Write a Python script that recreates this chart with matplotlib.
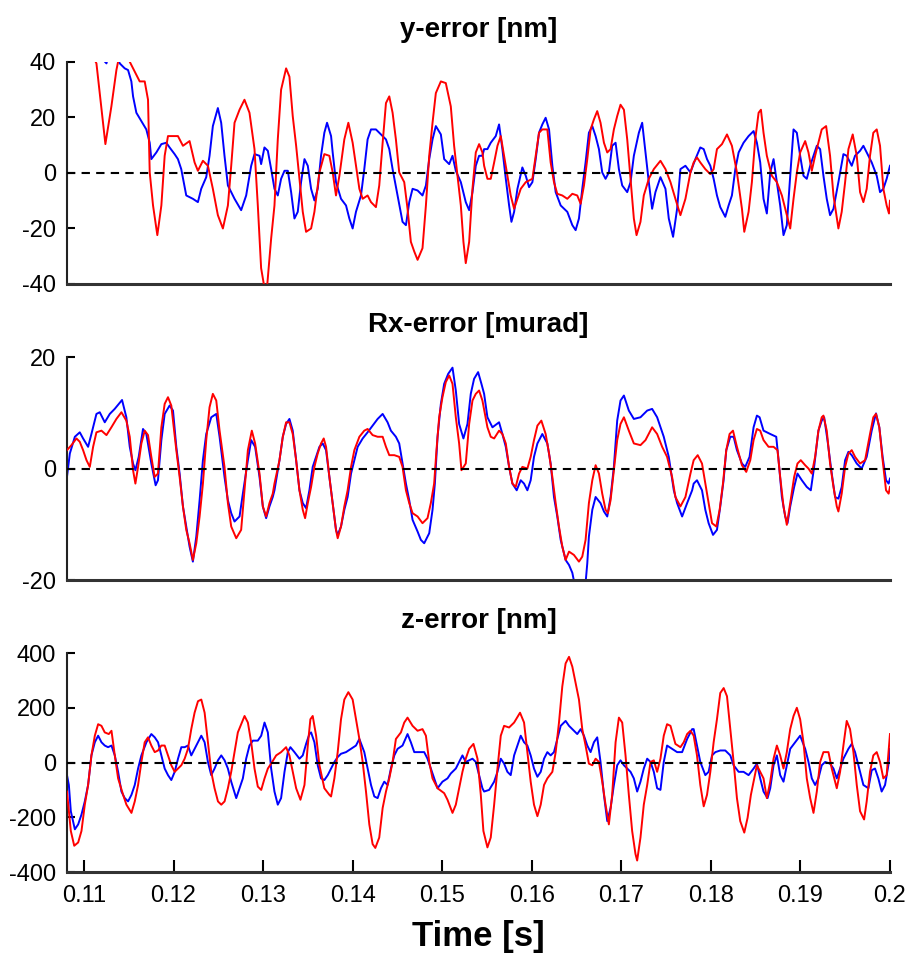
import numpy as np
import matplotlib
matplotlib.use("Agg")
import matplotlib.pyplot as plt

# ---------------- data (time in ms, values in panel units) ----------------
y_red_t = [108.1, 111.39, 112.39, 113.06, 113.62, 114.18, 115.29, 116.22, 116.78, 117.15, 117.34, 117.71,
           118.19, 118.64, 119.01, 119.38, 120.49, 121.05, 121.79, 122.35, 122.72, 123.28, 123.84, 124.39,
           124.95, 125.51, 126.07, 126.44, 126.81, 127.37, 127.92, 128.48, 129.04, 129.41, 129.78, 130.34,
           130.90, 131.27, 131.64, 132.01, 132.57, 132.94, 133.31, 133.69, 134.06, 134.43, 134.80, 135.36,
           135.73, 136.29, 136.84, 137.40, 137.77, 138.14, 138.52, 139.07, 139.52, 140.00, 140.37, 140.75,
           141.12, 141.67, 142.05, 142.60, 142.97, 143.35, 143.72, 144.09, 144.46, 144.83, 145.20, 145.76,
           146.13, 146.50, 146.88, 147.25, 147.80, 148.18, 148.55, 148.92, 149.29, 149.85, 150.40, 150.96,
           151.33, 151.71, 152.08, 152.37, 152.63, 153.01, 153.38, 153.75, 154.12, 154.49, 154.68, 155.05,
           155.42, 155.80, 156.17, 156.54, 156.91, 157.28, 157.65, 158.03, 158.40, 158.77, 159.33, 160.07,
           160.44, 160.81, 161.18, 161.74, 162.11, 162.48, 162.85, 163.41, 163.97, 164.53, 165.08, 165.46,
           165.83, 166.20, 166.57, 166.94, 167.31, 167.68, 168.06, 168.43, 168.80, 169.17, 169.54, 169.91,
           170.29, 170.66, 171.03, 171.40, 171.70, 172.14, 172.51, 173.07, 173.63, 174.37, 174.93, 175.49,
           176.04, 176.60, 177.16, 177.72, 178.08, 178.45, 178.82, 179.38, 179.94, 180.31, 180.68, 181.24,
           181.80, 182.35, 182.91, 183.47, 183.73, 184.21, 184.58, 184.95, 185.33, 185.59, 185.88, 186.25,
           186.81, 187.37, 187.93, 188.48, 188.86, 189.23, 189.60, 189.97, 190.53, 190.90, 191.27, 191.64,
           192.01, 192.38, 192.87, 193.31, 193.69, 194.24, 194.61, 194.99, 195.36, 195.84, 196.29, 196.66,
           197.03, 197.40, 197.77, 198.14, 198.52, 198.89, 199.26, 199.63, 199.89, 200.0]
y_red_v = [60, 39.5, 10.4, 24.0, 37.1, 46, 38.9, 33.0, 33.0, 26.4, 0.2, -11.7,
           -22.4, -11.7, 6.2, 13.3, 13.3, 9.8, 11.5, 3.8, 0.8, 4.4, 2.6, -5.7,
           -15.2, -20.0, -11.7, 2.6, 18.1, 22.8, 26.4, 21.7, 8.6, -11.7, -34.3, -45,
           -23.6, -11.7, 12.1, 30.0, 37.7, 34.7, 20.5, 9.8, -2.1, -14.0, -21.2, -20.0,
           -14.0, 0.2, 6.8, 6.2, 0.2, -8.1, -1.0, 12.1, 18.1, 10.9, 2.6, -5.7,
           -9.3, -8.1, -10.5, -12.3, -4.5, 10.9, 25.2, 27.6, 21.7, 12.1, 0.2, -3.3,
           -12.9, -24.8, -28.3, -31.3, -27.1, -11.7, 6.2, 18.1, 28.8, 33.0, 32.4, 24.0,
           9.8, -1.0, -11.7, -24.8, -32.5, -24.8, -5.7, 7.4, 10.4, 7.4, 2.6, -2.1,
           -2.1, 3.8, 9.8, 13.3, 6.2, -1.0, -8.1, -12.9, -9.3, -5.7, -3.3, -2.1,
           6.2, 14.5, 15.7, 15.7, 3.8, -3.3, -7.5, -8.1, -9.3, -7.5, -8.1, -11.1,
           -4.5, 5.0, 15.7, 19.3, 22.3, 18.1, 10.9, 7.4, 8.6, 15.7, 20.5, 24.6,
           22.8, 12.1, -2.1, -16.4, -22.4, -17.6, -8.1, -2.1, 1.4, 4.4, 1.4, -3.3,
           -9.3, -15.2, -9.3, 0.2, 3.8, 5.6, 3.8, 1.4, -0.4, 1.4, 8.6, 10.4,
           13.9, 9.8, 0.2, -12.9, -21.2, -14.0, -3.3, 12.1, 21.7, 22.8, 14.5, 6.2,
           -1.0, -3.3, -8.1, -15.2, -20.0, -9.3, 0.2, 7.4, 11.5, 7.4, 0.8, 6.2,
           10.9, 15.7, 16.9, 6.2, -8.1, -20.0, -14.0, -3.3, 8.6, 13.9, 6.2, -6.9,
           -10.5, -5.7, 6.2, 14.5, 15.7, 9.8, -5.7, -11.7, -14.6, -10.0]

y_blue_t = [108.1, 112.51, 113.2, 113.99, 114.55, 114.92, 115.29, 115.48, 115.85, 116.41, 116.96, 117.34,
            117.52, 118.08, 118.64, 119.19, 119.56, 120.12, 120.49, 120.86, 121.42, 122.16, 122.72, 123.09,
            123.65, 124.02, 124.39, 124.95, 125.32, 125.69, 126.07, 126.81, 127.55, 128.11, 128.67, 129.04,
            129.60, 129.78, 130.15, 130.53, 130.90, 131.27, 131.64, 132.01, 132.39, 132.76, 133.13, 133.50,
            133.87, 134.24, 134.62, 134.99, 135.36, 135.73, 136.10, 136.47, 136.84, 137.14, 137.59, 137.77,
            138.14, 138.70, 139.26, 139.63, 140.00, 140.37, 140.93, 141.30, 141.67, 142.05, 142.60, 143.16,
            143.72, 144.09, 144.46, 145.02, 145.57, 145.95, 146.32, 146.69, 147.25, 147.80, 148.18, 148.55,
            148.92, 149.29, 149.85, 150.22, 150.78, 151.15, 151.52, 152.08, 152.63, 153.01, 153.38, 153.75,
            154.12, 154.49, 154.68, 155.05, 155.42, 155.98, 156.35, 156.72, 157.10, 157.47, 157.73, 158.03,
            158.40, 158.95, 159.33, 159.70, 160.07, 160.44, 160.81, 161.18, 161.55, 161.93, 162.30, 162.67,
            163.23, 163.97, 164.53, 164.90, 165.27, 165.64, 166.01, 166.38, 166.76, 167.13, 167.50, 167.87,
            168.24, 168.61, 168.98, 169.36, 169.73, 170.10, 170.66, 171.03, 171.40, 171.96, 172.33, 172.70,
            173.07, 173.44, 173.81, 174.37, 174.93, 175.30, 175.78, 176.23, 176.60, 177.16, 177.72, 178.27,
            178.82, 179.20, 179.57, 179.94, 180.31, 180.68, 181.05, 181.61, 181.98, 182.35, 182.73, 183.10,
            183.65, 184.21, 184.77, 185.14, 185.51, 185.88, 186.25, 186.63, 187.00, 187.37, 187.74, 188.11,
            188.48, 188.86, 189.23, 189.60, 189.97, 190.34, 190.71, 191.09, 191.46, 191.83, 192.20, 192.57,
            192.94, 193.31, 193.69, 194.24, 194.80, 195.17, 195.73, 196.10, 196.66, 197.03, 197.59, 197.96,
            198.52, 198.89, 199.26, 199.63, 200.0]
y_blue_v = [55, 39.5, 48, 39.5, 37.7, 37.1, 33.0, 27.6, 21.7, 18.7, 15.7, 10.9,
            5.0, 7.4, 10.4, 10.9, 9.2, 6.8, 5.0, 1.4, -8.1, -9.3, -10.5, -5.7,
            -1.5, 6.2, 16.9, 23.4, 18.1, 6.2, -4.5, -9.3, -13.4, -8.1, 2.6, 6.8,
            6.2, 3.2, 9.2, 8.0, 1.4, -5.7, -8.1, -2.1, 0.8, 0.8, -6.9, -16.4,
            -14.0, -3.3, 5.0, 2.6, -5.7, -9.9, -5.7, 6.2, 14.5, 18.1, 13.3, 7.4,
            -3.3, -9.3, -11.7, -16.4, -20.0, -14.0, -8.1, 1.4, 12.1, 15.7, 15.7, 13.9,
            12.1, 8.6, 1.4, -8.1, -17.6, -18.8, -10.5, -5.7, -6.3, -8.1, -4.5, 5.0,
            12.1, 16.9, 13.9, 5.0, 3.2, 6.2, 0.8, -3.3, -10.5, -13.4, -6.9, 2.6,
            6.2, 6.2, 8.6, 8.6, 10.9, 13.3, 17.5, 8.6, -2.1, -11.7, -17.6, -14.0,
            -5.7, 2.0, -1.0, -5.1, -3.3, 5.0, 14.5, 17.5, 19.9, 15.7, 2.6, -6.9,
            -11.7, -14.0, -18.8, -20.6, -16.4, -5.7, 3.8, 14.5, 16.9, 13.3, 8.6, 0.2,
            -2.1, 0.2, 9.8, 10.9, 1.4, -4.5, -6.9, -3.3, 6.2, 14.5, 18.1, 7.4,
            -3.3, -12.9, -6.9, -1.5, -5.7, -16.4, -23.0, -12.9, 1.4, 2.6, 0.2, 5.0,
            9.2, 8.6, 5.0, 2.6, -2.1, -8.1, -12.3, -15.8, -11.7, -8.1, 1.4, 7.4,
            10.9, 13.3, 15.1, 10.9, 3.8, -9.3, -14.6, 0.2, 5.0, -3.3, -11.7, -22.4,
            -18.8, -1.0, 15.7, 14.5, 6.2, -1.0, -2.1, 2.6, 6.2, 9.8, 8.6, -1.0,
            -9.3, -15.2, -12.9, -3.3, 6.8, 6.2, 2.6, 6.2, 8.0, 9.8, 6.2, 3.8,
            -1.0, -6.9, -5.7, -2.1, 2.6]

rx_red_t = [108.1, 108.60, 109.16, 109.53, 109.90, 110.28, 110.65, 111.02, 111.39, 111.95, 112.51, 113.06,
            113.62, 114.18, 114.73, 115.11, 115.48, 115.74, 116.04, 116.41, 116.78, 117.15, 117.52, 117.89,
            118.26, 118.64, 119.01, 119.38, 119.75, 120.31, 120.68, 121.05, 121.42, 121.79, 122.16, 122.54,
            122.91, 123.28, 123.65, 124.02, 124.39, 124.77, 125.14, 125.69, 126.07, 126.44, 127.00, 127.55,
            127.92, 128.30, 128.74, 129.11, 129.60, 129.97, 130.34, 130.71, 131.08, 131.27, 131.83, 132.20,
            132.57, 132.94, 133.31, 133.69, 134.06, 134.43, 134.69, 134.99, 135.36, 135.73, 136.10, 136.47,
            136.77, 137.03, 137.40, 137.77, 138.14, 138.33, 138.70, 139.07, 139.44, 139.82, 140.19, 140.75,
            141.30, 141.67, 142.23, 142.79, 143.35, 143.72, 144.09, 144.65, 145.20, 145.57, 145.95, 146.32,
            146.69, 147.25, 147.80, 148.36, 148.73, 149.10, 149.36, 149.66, 150.03, 150.40, 150.78, 151.15,
            151.52, 151.89, 152.15, 152.63, 153.01, 153.38, 153.75, 154.12, 154.49, 155.05, 155.42, 155.80,
            156.35, 156.72, 157.10, 157.47, 157.84, 158.21, 158.58, 158.95, 159.51, 159.88, 160.25, 160.63,
            161.07, 161.55, 161.93, 162.30, 162.67, 163.04, 163.41, 163.78, 164.16, 164.71, 165.27, 165.64,
            166.01, 166.38, 166.76, 167.13, 167.50, 167.87, 168.24, 168.50, 168.80, 169.17, 169.54, 169.91,
            170.29, 170.84, 171.40, 172.14, 172.70, 173.44, 174.00, 174.56, 175.11, 175.67, 176.04, 176.60,
            177.16, 177.72, 178.08, 178.53, 179.01, 179.38, 179.75, 180.13, 180.61, 180.98, 181.35, 181.72,
            182.09, 182.47, 182.91, 183.47, 183.95, 184.40, 184.77, 185.14, 185.51, 185.88, 186.44, 187.00,
            187.44, 187.74, 188.11, 188.48, 188.86, 189.30, 189.67, 190.04, 190.53, 190.90, 191.27, 191.64,
            192.01, 192.38, 192.57, 192.94, 193.31, 193.69, 194.06, 194.24, 194.61, 194.99, 195.36, 195.73,
            196.10, 196.66, 197.22, 197.77, 198.14, 198.44, 198.81, 199.18, 199.56, 199.85, 200.0]
rx_red_v = [3.3, 4.2, 5.4, 4.8, 3.3, 1.5, 0.3, 3.9, 6.5, 6.8, 6.0, 7.4,
            8.9, 10.1, 8.6, 5.7, -0.3, -2.7, 0.3, 4.5, 6.8, 6.0, 2.1, -1.5,
            -0.9, 7.4, 11.6, 12.8, 11.3, 3.3, -1.5, -6.8, -11.0, -13.4, -16.4, -13.4,
            -8.6, -2.7, 5.1, 11.0, 13.4, 12.2, 6.8, 0.3, -6.2, -10.4, -12.5, -11.0,
            -3.9, 3.3, 6.8, 4.5, -0.9, -6.8, -8.6, -6.2, -4.5, -2.7, 1.5, 5.7,
            8.3, 8.3, 6.2, 1.5, -3.9, -7.4, -8.9, -6.2, -3.3, 0.3, 2.7, 4.5,
            5.4, 3.9, -1.5, -6.2, -11.0, -12.5, -10.4, -6.8, -3.9, 0.3, 3.3, 5.7,
            6.8, 7.1, 6.0, 5.7, 5.7, 3.9, 2.4, 2.4, 2.1, 0.3, -3.9, -6.2,
            -8.0, -8.6, -9.8, -8.9, -6.2, -2.7, 3.3, 9.2, 12.8, 15.5, 16.7, 15.2,
            9.2, 4.5, -0.3, 0.9, 8.0, 12.2, 13.4, 14.0, 12.2, 7.4, 5.7, 5.4,
            6.8, 6.2, 4.5, 0.3, -2.7, -3.3, -0.9, 0.3, 0.0, 2.1, 5.1, 7.7,
            8.6, 6.2, 2.7, -1.5, -6.2, -10.4, -14.0, -16.4, -14.9, -15.5, -16.7, -15.8,
            -12.8, -6.2, -2.1, 0.6, -0.9, -4.5, -7.4, -8.0, -5.7, -0.3, 5.1, 8.0,
            9.2, 6.8, 4.5, 4.2, 5.1, 7.4, 6.2, 3.9, 2.1, -1.5, -5.1, -6.8,
            -5.1, -0.9, 1.5, 2.4, 0.9, -2.7, -6.2, -9.8, -10.4, -7.4, -2.7, 3.3,
            6.2, 6.8, 3.9, 0.6, -0.6, 1.5, 5.1, 7.1, 6.8, 5.1, 3.9, 3.9,
            3.3, -1.5, -6.8, -10.1, -6.2, -1.5, 0.9, 1.5, 0.6, 0.0, -0.9, 2.1,
            6.8, 9.2, 9.5, 6.8, 0.9, -3.3, -6.8, -7.7, -4.5, 0.3, 2.7, 3.3,
            2.1, 0.9, 1.5, 6.2, 9.2, 9.8, 7.4, 1.5, -3.9, -4.5, -3.3]

rx_blue_t = [108.1, 108.42, 108.98, 109.53, 109.90, 110.46, 110.83, 111.39, 111.76, 112.32, 112.88, 113.43,
             114.25, 114.73, 115.11, 115.48, 115.74, 116.11, 116.59, 116.96, 117.52, 118.00, 118.26, 118.64,
             119.01, 119.56, 119.94, 120.31, 120.68, 121.05, 121.42, 121.79, 122.16, 122.54, 122.91, 123.28,
             123.65, 124.21, 124.77, 125.14, 125.69, 126.07, 126.44, 126.81, 127.37, 127.74, 128.30, 128.67,
             129.11, 129.60, 129.97, 130.34, 130.71, 131.08, 131.27, 131.83, 132.20, 132.57, 132.94, 133.31,
             133.69, 134.06, 134.43, 134.80, 135.17, 135.54, 135.92, 136.29, 136.66, 137.03, 137.40, 137.77,
             138.14, 138.33, 138.70, 139.07, 139.44, 139.82, 140.19, 140.56, 141.12, 141.67, 142.23, 142.79,
             143.35, 143.90, 144.27, 144.83, 145.20, 145.57, 145.95, 146.32, 146.69, 147.25, 147.62, 147.99,
             148.55, 148.92, 149.18, 149.48, 149.85, 150.22, 150.67, 151.15, 151.52, 151.89, 152.37, 152.82,
             153.19, 153.56, 154.01, 154.38, 154.68, 155.05, 155.61, 156.35, 156.72, 157.10, 157.47, 157.84,
             158.32, 158.77, 159.14, 159.51, 159.88, 160.25, 160.63, 161.18, 161.74, 162.11, 162.48, 162.85,
             163.23, 163.78, 164.16, 164.53, 164.90, 165.46, 166.01, 166.20, 166.38, 166.76, 167.13, 167.68,
             168.06, 168.43, 168.80, 169.17, 169.54, 169.91, 170.29, 170.84, 171.40, 172.14, 172.89, 173.44,
             174.00, 174.74, 175.30, 175.86, 176.23, 176.79, 177.35, 177.91, 178.08, 178.45, 179.01, 179.38,
             179.75, 180.24, 180.68, 181.05, 181.42, 181.72, 182.17, 182.54, 182.91, 183.47, 183.84, 184.32,
             184.77, 185.14, 185.44, 185.88, 186.63, 187.30, 187.56, 187.93, 188.30, 188.56, 188.86, 189.30,
             189.67, 190.16, 190.71, 191.16, 191.53, 192.01, 192.38, 192.65, 193.02, 193.50, 193.87, 194.24,
             194.61, 194.99, 195.36, 195.73, 196.29, 196.84, 197.40, 197.96, 198.44, 198.81, 199.18, 199.56,
             199.85, 200.0]
rx_blue_v = [-1.5, 2.7, 5.7, 6.5, 5.4, 3.9, 6.2, 9.8, 10.1, 8.3, 9.8, 10.7,
             12.3, 9.2, 3.9, 0.9, -0.3, 2.1, 7.1, 6.2, 0.9, -3.0, -2.1, 5.1,
             9.8, 11.3, 10.4, 3.9, -0.9, -6.8, -10.4, -14.0, -16.7, -12.2, -5.7, 1.5,
             6.2, 9.2, 9.8, 5.7, -1.5, -5.7, -8.0, -9.5, -8.6, -4.5, 1.5, 5.1,
             3.9, -1.5, -6.8, -8.9, -6.8, -5.1, -3.9, 1.5, 5.7, 8.0, 8.9, 6.8,
             1.5, -3.9, -6.2, -7.1, -3.9, 0.3, 2.1, 3.9, 4.5, 3.3, -1.5, -6.2,
             -11.0, -11.9, -10.4, -7.4, -5.1, -0.9, 1.5, 3.9, 5.4, 6.5, 7.7, 8.9,
             9.8, 8.3, 6.8, 5.7, 4.5, 0.9, -2.7, -5.7, -9.2, -11.3, -12.8, -13.4,
             -11.6, -7.4, -2.7, 5.7, 11.6, 15.2, 17.0, 18.1, 14.0, 8.0, 5.4, 8.0,
             13.4, 16.1, 17.3, 15.2, 13.4, 9.2, 7.4, 8.3, 6.2, 3.9, 0.3, -2.7,
             -3.9, -2.1, -2.7, -3.9, -2.1, 2.1, 4.5, 6.2, 4.5, 0.9, -5.1, -8.6,
             -12.8, -16.4, -17.3, -18.7, -21.7, -22.9, -20.5, -17.0, -12.2, -7.4, -5.1, -6.2,
             -7.7, -8.6, -5.1, 0.3, 8.6, 12.2, 13.1, 10.4, 8.9, 9.2, 10.4, 10.7,
             9.2, 5.7, 2.1, -3.9, -6.2, -8.6, -6.2, -3.9, -2.7, -2.1, -3.9, -7.4,
             -9.8, -11.9, -11.0, -6.8, -2.1, 3.3, 5.7, 5.7, 3.3, 0.9, 0.3, 2.1,
             7.4, 9.5, 9.2, 6.8, 6.2, 5.7, 1.5, -5.1, -8.6, -9.8, -6.8, -3.3,
             -0.9, -2.1, -3.3, -3.9, 0.3, 6.8, 8.6, 9.2, 5.1, -0.9, -5.1, -5.4,
             -3.3, 1.5, 3.0, 2.4, 0.9, 0.0, 2.1, 6.8, 9.9, 7.4, 2.1, -2.1,
             -2.7, -1.8]

z_red_t = [108.1, 108.53, 108.91, 109.35, 109.72, 110.09, 110.46, 110.83, 111.21, 111.58, 111.95, 112.32,
           112.77, 113.07, 113.44, 113.81, 114.37, 114.74, 115.30, 115.67, 116.04, 116.41, 116.78, 117.15,
           117.52, 117.90, 118.27, 118.64, 119.01, 119.38, 119.75, 120.13, 120.50, 120.87, 121.24, 121.61,
           121.98, 122.35, 122.73, 123.10, 123.47, 123.84, 124.21, 124.58, 124.96, 125.33, 125.70, 126.07,
           126.44, 126.81, 127.18, 127.56, 127.93, 128.30, 128.67, 129.04, 129.41, 129.79, 130.16, 130.53,
           130.90, 131.46, 132.01, 132.57, 132.94, 133.31, 133.69, 134.17, 134.62, 134.99, 135.28, 135.54,
           135.92, 136.29, 136.84, 137.40, 137.59, 137.96, 138.33, 138.70, 139.07, 139.52, 140.00, 140.37,
           140.75, 141.12, 141.49, 141.86, 142.23, 142.53, 142.97, 143.35, 143.72, 144.09, 144.46, 144.83,
           145.39, 145.76, 146.13, 146.69, 147.25, 147.80, 148.18, 148.55, 148.92, 149.48, 150.22, 150.59,
           151.15, 151.52, 151.89, 152.26, 152.63, 153.01, 153.49, 153.94, 154.31, 154.60, 155.05, 155.42,
           155.80, 156.17, 156.54, 156.91, 157.47, 158.03, 158.69, 159.14, 159.51, 159.88, 160.25, 160.63,
           161.00, 161.37, 161.74, 162.30, 162.67, 163.04, 163.41, 163.78, 164.16, 164.53, 164.90, 165.27,
           165.64, 166.01, 166.38, 166.76, 167.13, 167.50, 167.87, 168.24, 168.61, 168.98, 169.36, 169.73,
           170.10, 170.47, 170.84, 171.21, 171.58, 171.77, 172.14, 172.51, 172.89, 173.26, 173.63, 174.00,
           174.37, 174.74, 175.11, 175.49, 176.04, 176.60, 176.97, 177.35, 177.72, 178.08, 178.45, 178.82,
           179.20, 179.57, 179.94, 180.31, 180.68, 181.05, 181.43, 181.80, 182.17, 182.54, 182.91, 183.28,
           183.73, 184.10, 184.47, 184.84, 185.14, 185.51, 185.88, 186.25, 186.63, 187.00, 187.37, 187.74,
           188.11, 188.48, 188.86, 189.23, 189.60, 189.97, 190.34, 190.71, 191.09, 191.46, 191.83, 192.20,
           192.57, 193.13, 193.50, 194.06, 194.43, 194.80, 195.17, 195.54, 195.92, 196.29, 196.66, 197.11,
           197.40, 197.77, 198.14, 198.52, 198.89, 199.26, 199.63, 200.0]
z_red_v = [-106, -250, -304, -292, -250, -154, -82, 26, 98, 140, 134, 110,
           104, 116, 26, -58, -118, -154, -184, -142, -82, 2, 74, 92,
           62, 38, 44, 62, 62, 26, -10, -34, -22, -10, 14, 50,
           122, 182, 224, 230, 182, 74, -34, -94, -142, -154, -142, -94,
           -34, 38, 110, 140, 170, 146, 74, -22, -88, -100, -58, -22,
           -4, 26, 38, 56, 26, -34, -94, -136, -82, 62, 158, 170,
           98, -10, -94, -118, -124, -58, 38, 158, 230, 257, 230, 158,
           86, 2, -106, -226, -298, -312, -274, -166, -106, -58, 2, 86,
           110, 146, 164, 134, 116, 122, 98, 2, -58, -94, -112, -136,
           -184, -154, -94, -34, 14, 50, 68, 14, -118, -250, -310, -274,
           -154, -22, 98, 134, 128, 146, 182, 146, 38, -70, -154, -196,
           -154, -82, -58, -34, 38, 146, 278, 362, 386, 350, 290, 230,
           122, 62, -4, -10, 14, 2, -70, -154, -226, -118, 74, 164,
           146, 26, -118, -250, -334, -358, -274, -154, -82, 2, 8, -34,
           14, 98, 140, 134, 68, 56, 74, 104, 116, 98, 26, -82,
           -160, -118, -34, 74, 158, 254, 272, 242, 122, 2, -130, -214,
           -256, -202, -118, -58, -10, -34, -58, -130, -70, 14, 62, 26,
           -22, 38, 122, 170, 200, 158, 74, -58, -130, -184, -106, 2,
           38, 38, -22, -94, -34, 62, 152, 122, 38, -82, -178, -208,
           -142, -34, 26, 38, 2, -58, -46, 104]

z_blue_t = [108.1, 108.31, 108.53, 108.98, 109.35, 109.72, 110.09, 110.46, 110.83, 111.21, 111.58, 111.95,
            112.32, 112.69, 113.07, 113.44, 113.81, 114.18, 114.55, 114.92, 115.30, 115.67, 116.04, 116.41,
            116.97, 117.52, 117.90, 118.27, 118.64, 119.01, 119.38, 119.75, 120.13, 120.50, 120.87, 121.24,
            121.61, 121.98, 122.35, 122.73, 123.10, 123.47, 123.84, 124.21, 124.58, 124.96, 125.33, 125.70,
            126.07, 126.44, 127.00, 127.37, 127.74, 128.11, 128.48, 128.86, 129.41, 129.79, 130.16, 130.53,
            130.90, 131.27, 131.64, 132.01, 132.39, 132.76, 133.05, 133.50, 134.06, 134.43, 134.80, 135.17,
            135.36, 135.73, 136.10, 136.47, 136.84, 137.22, 137.59, 137.96, 138.33, 138.70, 139.26, 139.82,
            140.37, 140.75, 141.30, 141.67, 142.05, 142.42, 142.79, 143.16, 143.53, 143.90, 144.27, 144.65,
            145.02, 145.57, 146.13, 146.50, 146.88, 147.43, 147.99, 148.36, 148.73, 149.10, 149.48, 150.03,
            150.59, 150.96, 151.52, 151.89, 152.26, 152.63, 153.01, 153.38, 153.75, 154.12, 154.49, 154.68,
            155.24, 155.80, 156.17, 156.54, 156.91, 157.28, 157.65, 158.03, 158.77, 159.14, 159.51, 159.88,
            160.25, 160.63, 161.00, 161.37, 161.74, 162.11, 162.48, 162.85, 163.23, 163.78, 164.16, 164.71,
            165.08, 165.46, 165.83, 166.20, 166.57, 166.94, 167.31, 167.68, 168.06, 168.43, 168.80, 169.17,
            169.54, 169.91, 170.29, 170.66, 171.03, 171.40, 171.77, 172.14, 172.51, 172.89, 173.26, 173.63,
            174.00, 174.37, 174.74, 175.11, 175.67, 176.23, 176.79, 177.35, 177.91, 178.08, 178.45, 178.82,
            179.38, 179.75, 180.13, 180.50, 181.05, 181.61, 182.17, 182.54, 183.10, 183.65, 184.21, 184.77,
            185.14, 185.51, 185.88, 186.33, 186.63, 187.00, 187.37, 187.74, 188.11, 188.48, 188.86, 189.41,
            189.97, 190.53, 190.90, 191.27, 191.64, 192.01, 192.38, 192.76, 193.31, 193.69, 194.06, 194.43,
            194.80, 195.36, 195.73, 196.10, 196.66, 197.03, 197.59, 197.96, 198.33, 198.70, 199.07, 199.45,
            199.82, 200.0]
z_blue_v = [-46, -82, -178, -244, -226, -190, -142, -82, 26, 74, 98, 74,
            62, 56, 62, 26, -34, -106, -130, -142, -118, -82, -22, 26,
            74, 104, 92, 74, 26, -22, -46, -64, -34, 14, 56, 56,
            62, 26, 50, 74, 98, 74, 2, -46, -22, 8, 26, 8,
            -22, -70, -130, -94, -58, 14, 62, 80, 80, 98, 146, 110,
            -22, -106, -154, -130, -34, 38, 56, 38, 14, 26, 68, 104,
            110, 74, -10, -58, -64, -46, -22, 2, 20, 32, 38, 50,
            62, 86, 38, -22, -82, -124, -130, -94, -70, -82, -22, 26,
            50, 62, 104, 74, 38, 38, 38, 14, -22, -58, -94, -70,
            -58, -40, -22, 2, 26, 2, 8, 14, 2, -46, -94, -106,
            -100, -70, -34, 14, -4, -34, -46, 26, 98, 74, 62, 26,
            -22, -52, -34, 14, 38, 26, 38, 86, 134, 152, 134, 116,
            104, 122, 98, 62, 38, 74, 92, 2, -118, -214, -166, -82,
            -10, 8, -10, -22, -34, -58, -106, -70, -22, 14, 2, -34,
            -94, -100, 2, 62, 50, 38, 38, 86, 122, 122, 62, 2,
            -46, -34, 26, 38, 44, 44, 26, -10, -34, -34, -46, -22,
            -4, -58, -106, -130, -94, -10, 26, -46, -70, -10, 50, 74,
            98, 50, 2, -58, -82, -58, -10, 2, -4, -22, -58, -22,
            14, 50, 68, 38, -34, -82, -94, -28, -22, -58, -106, -82,
            -10, 50]

panel_titles = ["y-error [nm]", "Rx-error [murad]", "z-error [nm]"]
panel_ylims = [(-40, 40), (-20, 20), (-400, 400)]
panel_yticks = [[-40, -20, 0, 20, 40], [-20, 0, 20], [-400, -200, 0, 200, 400]]
x_ticks = [0.11, 0.12, 0.13, 0.14, 0.15, 0.16, 0.17, 0.18, 0.19, 0.20]
x_ticklabels = ["0.11", "0.12", "0.13", "0.14", "0.15", "0.16", "0.17", "0.18", "0.19", "0.2"]
x_label = "Time [s]"
x_range = (0.1081, 0.2)

series = [
    (y_red_t, y_red_v, y_blue_t, y_blue_v),
    (rx_red_t, rx_red_v, rx_blue_t, rx_blue_v),
    (z_red_t, z_red_v, z_blue_t, z_blue_v),
]

# ---------------- drawing ----------------
plt.rcParams['font.family'] = ['Liberation Sans', 'DejaVu Sans']
fig = plt.figure(figsize=(9.05, 9.64), dpi=100)

rects = [
    [0.074, 0.7054, 0.9094, 0.2303],
    [0.074, 0.3983, 0.9094, 0.2313],
    [0.074, 0.0954, 0.9094, 0.2272],
]

for i, (rect, (rt, rv, bt, bv)) in enumerate(zip(rects, series)):
    ax = fig.add_axes(rect)
    ax.plot(np.array(rt) / 1000.0, rv, color='#ff0000', lw=1.4, zorder=3)
    ax.plot(np.array(bt) / 1000.0, bv, color='#0000ff', lw=1.4, zorder=2)
    ax.axhline(0, color='black', lw=1.5, ls=(0, (4, 3)), zorder=4)
    ax.set_xlim(*x_range)
    ax.set_ylim(*panel_ylims[i])
    ax.set_yticks(panel_yticks[i])
    ax.set_yticklabels([str(v) for v in panel_yticks[i]])
    ax.spines['top'].set_visible(False)
    ax.spines['right'].set_visible(False)
    ax.spines['left'].set_linewidth(1.5)
    ax.spines['bottom'].set_linewidth(2.2)
    ax.spines['left'].set_color('#222222')
    ax.spines['bottom'].set_color('#333333')
    ax.tick_params(axis='y', direction='in', length=6, width=1.5, labelsize=17, pad=8)
    ax.set_title(panel_titles[i], fontsize=20, fontweight='bold', pad=18)
    if i < 2:
        ax.set_xticks([])
    else:
        ax.set_xticks(x_ticks)
        ax.set_xticklabels(x_ticklabels)
        ax.tick_params(axis='x', direction='in', length=9, width=1.5, labelsize=17, pad=9)
        ax.set_xlabel(x_label, fontsize=25, fontweight='bold', labelpad=10)

fig.savefig("out.png", dpi=100)
